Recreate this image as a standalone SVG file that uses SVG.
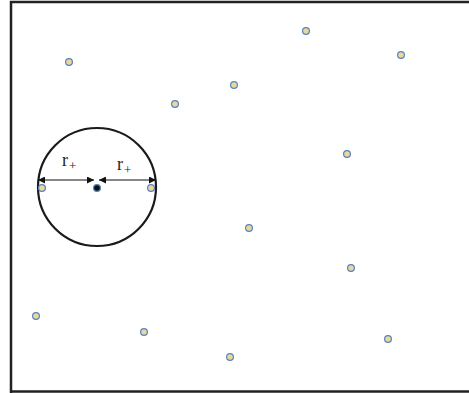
<svg xmlns="http://www.w3.org/2000/svg" width="469" height="393" viewBox="0 0 469 393">
<style>
.pt{fill:#f2d49a;stroke:#4f86c0;stroke-width:1.2}
.lbl{font-family:"Liberation Serif",serif;font-size:18px;fill:#222}
.sub{font-family:"Liberation Serif",serif;font-size:13px;fill:#222}
</style>
<defs>
<marker id="ah" viewBox="0 0 10 10" refX="10" refY="5" markerWidth="7" markerHeight="7" orient="auto-start-reverse" markerUnits="userSpaceOnUse">
<path d="M0,0 L10,5 L0,10 z" fill="#111"/>
</marker>
</defs>
<rect width="469" height="393" fill="#fff"/>
<path d="M11,393 V2 H469 M11,391.5 H469" fill="none" stroke="#222" stroke-width="2.5"/>
<g id="circle">
<circle cx="97" cy="187" r="59" fill="none" stroke="#1a1a1a" stroke-width="2.2"/>
</g>
<g id="connectors">
<line x1="38" y1="180" x2="94" y2="180" stroke="#111" stroke-width="1.2" marker-start="url(#ah)" marker-end="url(#ah)"/>
<line x1="99" y1="180" x2="156" y2="180" stroke="#111" stroke-width="1.2" marker-start="url(#ah)" marker-end="url(#ah)"/>
</g>
<g id="labels">
<text class="lbl" x="62" y="166">r<tspan class="sub" dx="1" dy="4">+</tspan></text>
<text class="lbl" x="117" y="170">r<tspan class="sub" dx="1" dy="4">+</tspan></text>
</g>
<g id="center"><circle cx="97" cy="188" r="3.4" fill="#111" stroke="#4f86c0" stroke-width="1.2"/></g>
<g id="p1"><circle class="pt" cx="69" cy="62" r="3.4"/></g>
<g id="p2"><circle class="pt" cx="306" cy="31" r="3.4"/></g>
<g id="p3"><circle class="pt" cx="401" cy="55" r="3.4"/></g>
<g id="p4"><circle class="pt" cx="234" cy="85" r="3.4"/></g>
<g id="p5"><circle class="pt" cx="175" cy="104" r="3.4"/></g>
<g id="p6"><circle class="pt" cx="347" cy="154" r="3.4"/></g>
<g id="p7"><circle class="pt" cx="42" cy="188" r="3.4"/></g>
<g id="p8"><circle class="pt" cx="151" cy="188" r="3.4"/></g>
<g id="p9"><circle class="pt" cx="249" cy="228" r="3.4"/></g>
<g id="p10"><circle class="pt" cx="351" cy="268" r="3.4"/></g>
<g id="p11"><circle class="pt" cx="36" cy="316" r="3.4"/></g>
<g id="p12"><circle class="pt" cx="144" cy="332" r="3.4"/></g>
<g id="p13"><circle class="pt" cx="230" cy="357" r="3.4"/></g>
<g id="p14"><circle class="pt" cx="388" cy="339" r="3.4"/></g>
</svg>
